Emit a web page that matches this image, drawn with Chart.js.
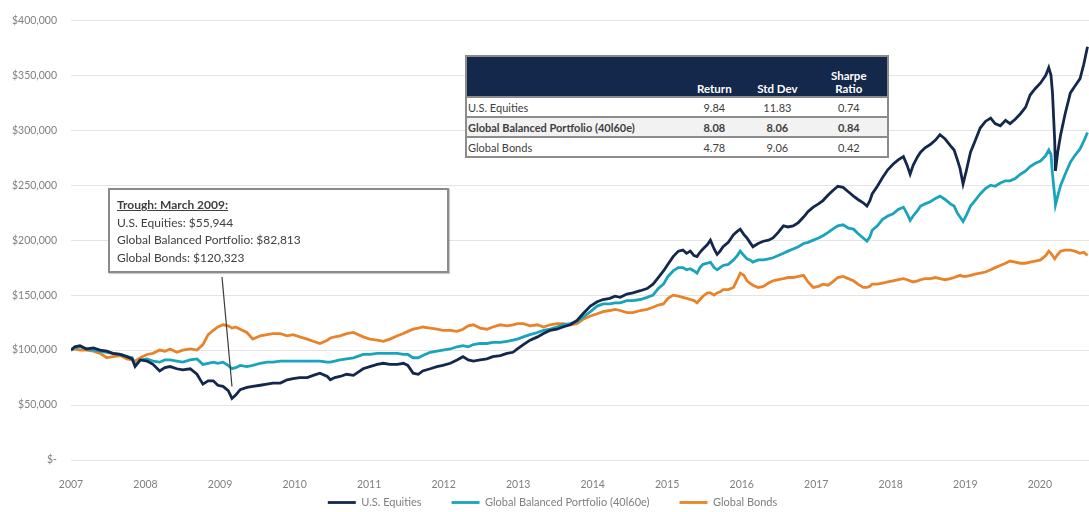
<!DOCTYPE html>
<html>
<head>
<meta charset="utf-8">
<script src="https://cdn.jsdelivr.net/npm/chart.js@4.4.1/dist/chart.umd.min.js"></script>
<style>
  body { margin: 0; background: #fff; font-family: Lato, 'Open Sans', sans-serif; }
  #wrap { position: relative; width: 1089px; height: 512px; overflow: hidden; }
  #growthChart { position: absolute; left: 0; top: 0; }
  .stats {
    position: absolute; left: 465px; top: 55px; width: 424px;
    border-collapse: collapse; font-size: 11px; color: #404040;
    border: 2px solid #8c8c8c; background: #fff;
  }
  .stats th { background: #14284c; color: #fff; font-weight: bold; height: 38px;
    vertical-align: bottom; padding: 0 0 1px 0; line-height: 13px; text-align: center; font-size: 11.5px; }
  .stats td { height: 18px; padding: 0; text-align: center; border-top: 2px solid #8c8c8c; }
  .stats td.name { text-align: left; padding-left: 1px; }
  .stats tr.bold td { font-weight: bold; background: #f2f2f2; }
  .trough {
    position: absolute; left: 108px; top: 188px; width: 323px; height: 69px;
    border: 2px solid #8a8a8a; background: #fff; padding: 6px 7px;
    font-size: 12px; line-height: 17.7px; color: #404040;
    box-shadow: 1px 1px 1px rgba(0,0,0,0.2);
  }
  .trough b { text-decoration: underline; }
</style>
</head>
<body>
<div id="wrap">
  <canvas id="growthChart" width="1089" height="512"></canvas>
  <table class="stats" id="stats"></table>
  <div class="trough" id="trough"></div>
</div>
<script>
// growth of $100,000, values in thousands
const dates = [
  2007.00,2007.05,2007.12,2007.21,2007.30,2007.39,2007.48,2007.56,2007.66,2007.75,2007.82,2007.86,2007.93,
  2008.02,2008.10,2008.19,2008.26,2008.33,2008.42,2008.50,2008.60,2008.69,2008.77,2008.84,2008.91,2008.97,
  2009.04,2009.11,2009.16,2009.21,2009.27,2009.36,2009.44,2009.54,2009.63,2009.71,2009.81,2009.90,2009.98,
  2010.07,2010.17,2010.25,2010.34,2010.44,2010.48,2010.54,2010.61,2010.70,2010.79,2010.92,
  2011.01,2011.11,2011.19,2011.28,2011.38,2011.46,2011.52,2011.59,2011.66,2011.72,2011.82,2011.91,2011.99,
  2012.09,2012.18,2012.26,2012.33,2012.40,2012.49,2012.58,2012.66,2012.76,2012.85,2012.93,2012.99,
  2013.07,2013.16,2013.26,2013.34,2013.43,2013.52,2013.60,2013.70,2013.79,2013.87,2013.97,
  2014.06,2014.14,2014.23,2014.30,2014.37,2014.46,2014.54,2014.64,2014.73,2014.81,2014.88,2014.95,
  2015.01,2015.08,2015.15,2015.21,2015.26,2015.31,2015.36,2015.40,2015.44,2015.48,2015.54,2015.58,2015.63,2015.67,2015.71,2015.75,2015.82,2015.89,2015.94,2015.98,
  2016.03,2016.07,2016.11,2016.15,2016.22,2016.29,2016.36,2016.42,2016.49,2016.56,2016.62,2016.69,2016.76,2016.83,2016.89,2016.96,
  2017.03,2017.09,2017.16,2017.22,2017.29,2017.36,2017.43,2017.50,2017.56,2017.63,2017.68,2017.72,2017.75,2017.82,2017.89,2017.96,
  2018.03,2018.10,2018.17,2018.22,2018.26,2018.30,2018.36,2018.40,2018.46,2018.53,2018.60,2018.66,2018.73,2018.80,2018.85,2018.89,2018.93,2018.97,
  2019.01,2019.07,2019.13,2019.20,2019.27,2019.34,2019.40,2019.47,2019.54,2019.60,2019.67,2019.74,2019.81,2019.87,2019.94,
  2020.01,2020.08,2020.12,2020.15,2020.17,2020.20,2020.21,2020.24,2020.28,2020.34,2020.41,2020.47,2020.54,2020.59,2020.64
];
const usEquities = [
  100,103,104,101,102,100,99,97,96,94,92,85,91,
  90,87,81,84,85,83,82,83,78,69,72,72,68,
  67,63,56,59,64,66,67,68,69,70,70,73,74,
  75,75,77,79,76,73,75,76,78,77,83,
  85,87,88,87,87,88,86,79,78,81,83,85,86,
  88,91,94,91,90,91,92,94,95,97,98,101,
  105,109,112,115,118,119,121,123,127,133,140,
  144,146,147,149,148,151,152,154,156,160,166,172,
  178,185,190,191,188,190,186,185,189,192,196,200,192,187,190,194,198,205,208,210,
  205,202,198,194,197,199,200,202,207,213,212,213,216,221,226,230,
  233,236,241,245,249,248,244,240,237,234,231,236,242,249,257,264,
  269,273,276,268,260,268,276,280,284,287,291,296,292,286,282,274,265,251,
  262,280,290,302,308,311,306,304,309,306,310,315,321,332,338,
  343,350,357,350,334,290,263,280,296,315,334,340,347,360,376
];
const balanced = [
  100,102,103,101,100,99,98,97,96,94,93,86,91,
  92,90,89,91,91,90,89,91,92,87,88,89,88,
  89,86,83,84,86,85,86,88,89,89,90,90,90,
  90,90,90,90,89,89,90,91,92,93,96,
  96,97,97,97,97,96,96,93,93,95,98,99,100,
  101,103,104,103,105,106,106,107,107,108,109,110,
  112,114,116,118,119,121,123,124,126,130,135,
  140,142,142,143,143,145,145,146,148,150,156,160,
  167,172,175,175,173,174,172,170,175,178,179,180,175,173,175,177,178,182,186,190,
  186,183,182,180,182,182,183,184,186,188,190,192,194,197,198,200,
  202,204,207,210,213,214,211,210,206,202,199,203,209,213,219,222,
  224,228,230,224,218,222,227,231,233,235,238,240,237,233,231,225,221,217,
  222,231,236,242,247,250,249,252,254,254,256,260,263,267,270,
  272,277,282,278,260,240,232,240,250,260,271,277,283,290,298
];
const globalBonds = [
  100,101,100,100,99,97,93,94,95,92,91,90,93,
  96,97,100,99,101,98,100,101,100,105,114,118,121,
  123,122,120,121,119,116,110,113,114,115,115,113,114,
  112,110,108,106,109,111,112,113,115,116,112,
  110,109,108,110,113,115,117,119,120,121,120,119,118,
  118,117,119,122,123,120,119,121,123,122,123,124,
  124,122,123,121,123,124,124,123,124,128,131,
  133,135,136,137,136,134,134,136,137,139,141,142,
  147,150,149,148,147,146,145,143,146,149,152,152,150,152,153,155,155,157,164,170,
  168,163,161,159,157,158,161,163,164,165,166,166,167,168,162,157,
  158,160,159,162,166,167,165,163,160,157,157,158,160,160,161,162,
  163,164,165,164,163,162,163,164,165,165,166,165,164,165,166,167,168,167,
  167,168,169,170,171,173,175,177,179,181,180,179,179,180,181,
  182,186,190,188,186,183,184,187,190,191,191,190,188,189,186
];

const seriesNames = ['U.S. Equities', 'Global Balanced Portfolio (40l60e)', 'Global Bonds'];
const seriesColors = ['#13284c', '#19a4bb', '#e8832a'];

const statHeaders = ['Return', 'Std Dev', 'Sharpe<br>Ratio'];
const statReturn = ['9.84', '8.08', '4.78'];
const statStdDev = ['11.83', '8.06', '9.06'];
const statSharpe = ['0.74', '0.84', '0.42'];

const troughDate = 2009.16;
const troughTitle = 'Trough: March 2009:';
const troughValues = [55944, 82813, 120323];
const troughLabels = ['U.S. Equities', 'Global Balanced Portfolio', 'Global Bonds'];

// stats table
let html = '<tr><th style="width:220px"></th>' +
  statHeaders.map((h, i) => `<th style="width:${[60, 67, 77][i]}px">${h}</th>`).join('') + '</tr>';
seriesNames.forEach((name, i) => {
  html += `<tr class="${i === 1 ? 'bold' : ''}"><td class="name">${name}</td>` +
    `<td>${statReturn[i]}</td><td>${statStdDev[i]}</td><td>${statSharpe[i]}</td></tr>`;
});
document.getElementById('stats').innerHTML = html;

// trough callout
document.getElementById('trough').innerHTML = `<b>${troughTitle}</b><br>` +
  troughLabels.map((l, i) => `${l}: $${troughValues[i].toLocaleString('en-US')}`).join('<br>');

const toPoints = arr => arr.map((v, i) => ({ x: dates[i], y: v * 1000 }));

const calloutLine = {
  id: 'calloutLine',
  afterDatasetsDraw(chart) {
    const { ctx, scales: { x, y } } = chart;
    const px = x.getPixelForValue(troughDate);
    const py = y.getPixelForValue(troughValues[0]);
    ctx.save();
    ctx.strokeStyle = '#3a3a3a';
    ctx.lineWidth = 1.2;
    ctx.beginPath();
    ctx.moveTo(222, 277);
    ctx.lineTo(px, py - 12);
    ctx.stroke();
    ctx.restore();
  }
};

// legend: wide gaps between items but sitting close under the axis labels
const legendTweak = {
  id: 'legendTweak',
  beforeInit(chart) {
    const lg = chart.legend;
    const fit = lg.fit;
    lg.fit = function () {
      fit.bind(lg)();
      this.height = 24;
    };
    const drawInner = lg._draw;
    lg._draw = function () {
      const ctx = chart.ctx;
      ctx.save();
      ctx.translate(8, -21);
      drawInner.bind(lg)();
      ctx.restore();
    };
  }
};

new Chart(document.getElementById('growthChart'), {
  type: 'line',
  data: {
    datasets: [usEquities, balanced, globalBonds].map((arr, i) => ({
      label: seriesNames[i],
      data: toPoints(arr),
      borderColor: seriesColors[i],
      backgroundColor: seriesColors[i],
      borderWidth: 2.8,
      pointRadius: 0,
      tension: 0
    }))
  },
  options: {
    responsive: false,
    animation: false,
    layout: { padding: { top: 14, right: 0, bottom: 0, left: 0 } },
    plugins: {
      tooltip: { enabled: false },
      legend: {
        position: 'bottom',
        labels: {
          usePointStyle: true,
          pointStyle: 'line',
          pointStyleWidth: 28,
          padding: 30,
          color: '#7f7f7f',
          font: { family: 'Lato', size: 11 }
        }
      }
    },
    scales: {
      x: {
        type: 'linear',
        min: 2007,
        max: 2020.66,
        grid: { display: false },
        border: { display: false },
        afterBuildTicks: s => { s.ticks = s.ticks.filter(t => Number.isInteger(t.value)); },
        afterFit: s => { s.height = 28; },
        ticks: {
          stepSize: 1,
          includeBounds: false,
          padding: 10,
          maxRotation: 0,
          autoSkip: false,
          color: '#7f7f7f',
          font: { family: 'Lato', size: 10.5 },
          callback: v => String(v)
        }
      },
      y: {
        min: 0,
        max: 400000,
        grid: { color: '#e4e4e4', drawTicks: false },
        border: { display: false },
        afterFit: s => { s.width = 71; },
        ticks: {
          stepSize: 50000,
          padding: 14,
          color: '#7f7f7f',
          font: { family: 'Lato', size: 10.5 },
          callback: v => v === 0 ? '$-' : '$' + v.toLocaleString('en-US')
        }
      }
    }
  },
  plugins: [calloutLine, legendTweak]
});
</script>
</body>
</html>
